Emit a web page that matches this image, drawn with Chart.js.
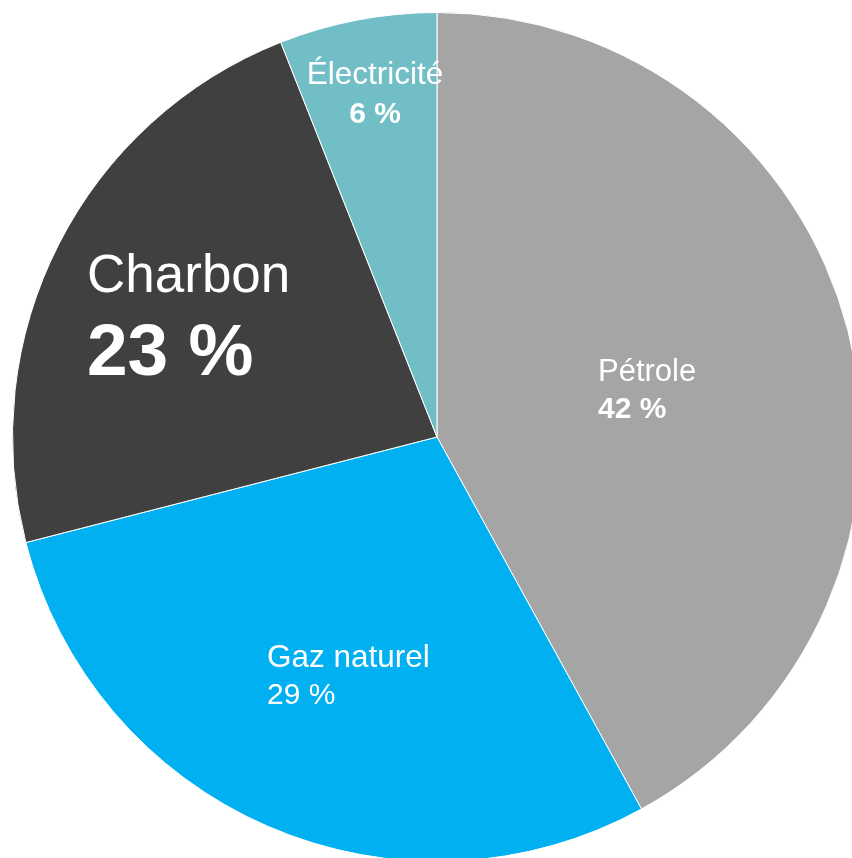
<!DOCTYPE html>
<html>
<head>
<meta charset="utf-8">
<script src="https://cdn.jsdelivr.net/npm/chart.js@4"></script>
<style>
  html, body { margin: 0; padding: 0; background: #ffffff; overflow: hidden; width: 852px; height: 858px; }
  #wrap { position: absolute; left: 12px; top: 12px; width: 850px; height: 850px; }
</style>
</head>
<body>
<div id="wrap"><canvas id="myChart"></canvas></div>
<script>
var labels = ["Pétrole", "Gaz naturel", "Charbon", "Électricité"];
var values = [42, 29, 23, 6];
var colors = ["#a5a5a5", "#00b0f0", "#404040", "#72bec6"];

// label placement: [x, baseline of name, baseline of value, name size, value size, value bold, align]
var labelPos = [
  [598, 381, 418, 31, 30, true, "left"],
  [267, 667, 704, 31.5, 30, false, "left"],
  [87, 292, 375, 53, 73, true, "left"],
  [375, 84, 123, 31.5, 30, true, "center"]
];

var sliceLabels = {
  id: "sliceLabels",
  afterDatasetsDraw: function(chart) {
    var ctx = chart.ctx;
    var off = chart.canvas.getBoundingClientRect();
    ctx.save();
    ctx.fillStyle = "#ffffff";
    ctx.textBaseline = "alphabetic";
    for (var i = 0; i < labels.length; i++) {
      var p = labelPos[i];
      var x = p[0] - off.left, y1 = p[1] - off.top, y2 = p[2] - off.top;
      ctx.textAlign = p[6];
      ctx.font = p[3] + "px 'Liberation Sans', Arial, sans-serif";
      ctx.fillText(labels[i], x, y1);
      ctx.font = (p[5] ? "bold " : "") + p[4] + "px 'Liberation Sans', Arial, sans-serif";
      ctx.fillText(values[i] + " %", x, y2);
    }
    ctx.restore();
  }
};

new Chart("myChart", {
  type: "pie",
  data: {
    labels: labels,
    datasets: [{
      data: values,
      backgroundColor: colors,
      borderColor: "#ffffff",
      borderWidth: 1
    }]
  },
  options: {
    animation: false,
    responsive: true,
    maintainAspectRatio: false,
    layout: { padding: 0 },
    plugins: {
      legend: { display: false },
      tooltip: { enabled: false }
    }
  },
  plugins: [sliceLabels]
});
</script>
</body>
</html>
